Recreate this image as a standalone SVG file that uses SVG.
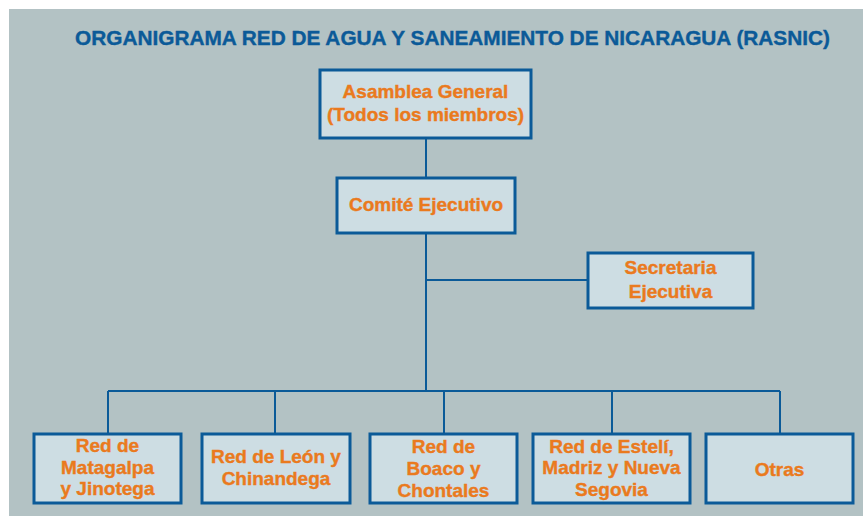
<svg xmlns="http://www.w3.org/2000/svg" width="863" height="516" viewBox="0 0 863 516">
<style>
.bg{fill:#b3c2c4}
.box{fill:#cddde3;stroke:#0b5a98;stroke-width:3}
.t{font-family:"Liberation Sans",Arial,sans-serif;font-weight:700;font-size:19px;fill:#ea7a1e;stroke:#ea7a1e;stroke-width:0.4;text-anchor:middle}
.title{font-family:"Liberation Sans",Arial,sans-serif;font-weight:700;font-size:21px;fill:#0b5a98;stroke:#0b5a98;stroke-width:0.4}
.ln{stroke:#0b5a98;stroke-width:2;fill:none}
</style>
<rect x="0" y="0" width="863" height="516" fill="#ffffff"/>
<rect class="bg" x="9" y="9" width="854" height="507"/>
<text class="title" x="75" y="45" textLength="755" lengthAdjust="spacingAndGlyphs">ORGANIGRAMA RED DE AGUA Y SANEAMIENTO DE NICARAGUA (RASNIC)</text>
<g id="connectors">
<path class="ln" d="M426 139V391M426 280H587M108 391H780M108 391V433M275 391V433M444 391V433M612 391V433M780 391V433"/>
</g>
<g id="asamblea">
<rect class="box" x="320" y="70" width="211" height="68"/>
<text class="t" x="425.5" y="97.5">Asamblea General</text>
<text class="t" x="425.5" y="120.5">(Todos los miembros)</text>
</g>
<g id="comite">
<rect class="box" x="337" y="178" width="178" height="55"/>
<text class="t" x="426" y="211">Comité Ejecutivo</text>
</g>
<g id="secretaria">
<rect class="box" x="588" y="253" width="165" height="55"/>
<text class="t" x="670.5" y="273.5">Secretaria</text>
<text class="t" x="670.5" y="297.5">Ejecutiva</text>
</g>
<g id="matagalpa">
<rect class="box" x="34" y="434" width="147" height="69"/>
<text class="t" x="107.5" y="452">Red de</text>
<text class="t" x="107.5" y="473.5">Matagalpa</text>
<text class="t" x="107.5" y="495">y Jinotega</text>
</g>
<g id="leon">
<rect class="box" x="202" y="434" width="148" height="69"/>
<text class="t" x="276" y="463">Red de León y</text>
<text class="t" x="276" y="484.5">Chinandega</text>
</g>
<g id="boaco">
<rect class="box" x="370" y="434" width="147" height="69"/>
<text class="t" x="443.5" y="453">Red de</text>
<text class="t" x="443.5" y="475">Boaco y</text>
<text class="t" x="443.5" y="497">Chontales</text>
</g>
<g id="esteli">
<rect class="box" x="533" y="434" width="157" height="69"/>
<text class="t" x="611.5" y="452.5">Red de Estelí,</text>
<text class="t" x="611.5" y="474">Madriz y Nueva</text>
<text class="t" x="611.5" y="495.5">Segovia</text>
</g>
<g id="otras">
<rect class="box" x="706" y="434" width="147" height="69"/>
<text class="t" x="779.5" y="475.5">Otras</text>
</g>
</svg>
